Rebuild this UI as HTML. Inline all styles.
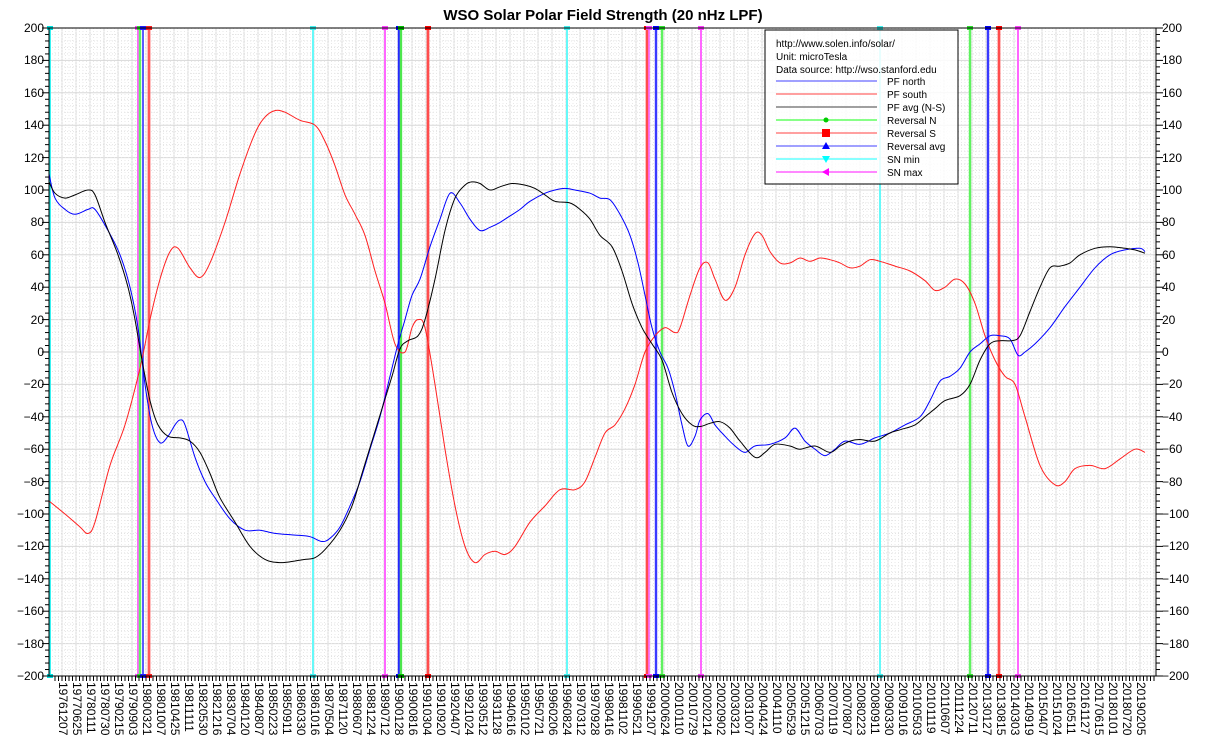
<!DOCTYPE html>
<html><head><meta charset="utf-8"><style>
body{margin:0;background:#fff;width:1206px;height:754px;overflow:hidden;font-family:"Liberation Sans",sans-serif;position:relative}
#xl{position:absolute;left:56px;top:682px;display:flex;font-size:12px;line-height:14px}
#xl span{writing-mode:vertical-rl;width:14px;display:block}
</style></head><body>
<svg id="s" width="1206" height="754" style="position:absolute;left:0;top:0" font-family="Liberation Sans, sans-serif">
<text x="603" y="20" text-anchor="middle" font-size="15" font-weight="bold">WSO Solar Polar Field Strength (20 nHz LPF)</text>
<g id="grid"></g><g id="vl"></g><g id="cur"></g><g id="ax"></g>
<g id="yl" font-size="12">
<text x="44" y="32" text-anchor="end">200</text><text x="44" y="64" text-anchor="end">180</text><text x="44" y="97" text-anchor="end">160</text><text x="44" y="129" text-anchor="end">140</text><text x="44" y="162" text-anchor="end">120</text><text x="44" y="194" text-anchor="end">100</text><text x="44" y="226" text-anchor="end">80</text><text x="44" y="259" text-anchor="end">60</text><text x="44" y="291" text-anchor="end">40</text><text x="44" y="324" text-anchor="end">20</text><text x="44" y="356" text-anchor="end">0</text><text x="44" y="388" text-anchor="end">−20</text><text x="44" y="421" text-anchor="end">−40</text><text x="44" y="453" text-anchor="end">−60</text><text x="44" y="486" text-anchor="end">−80</text><text x="44" y="518" text-anchor="end">−100</text><text x="44" y="550" text-anchor="end">−120</text><text x="44" y="583" text-anchor="end">−140</text><text x="44" y="615" text-anchor="end">−160</text><text x="44" y="648" text-anchor="end">−180</text><text x="44" y="680" text-anchor="end">−200</text>
<text x="1162" y="32">200</text><text x="1162" y="64">180</text><text x="1162" y="97">160</text><text x="1162" y="129">140</text><text x="1162" y="162">120</text><text x="1162" y="194">100</text><text x="1162" y="226">80</text><text x="1162" y="259">60</text><text x="1162" y="291">40</text><text x="1162" y="324">20</text><text x="1162" y="356">0</text><text x="1162" y="388">−20</text><text x="1162" y="421">−40</text><text x="1162" y="453">−60</text><text x="1162" y="486">−80</text><text x="1162" y="518">−100</text><text x="1162" y="550">−120</text><text x="1162" y="583">−140</text><text x="1162" y="615">−160</text><text x="1162" y="648">−180</text><text x="1162" y="680">−200</text>
</g>
<g id="leg">
<rect x="765" y="30" width="193" height="154" fill="rgba(255,255,255,0.85)" stroke="#000"/>
<g font-size="10">
<text x="776" y="47">http://www.solen.info/solar/</text>
<text x="776" y="60">Unit: microTesla</text>
<text x="776" y="73">Data source: http://wso.stanford.edu</text>
<text x="887" y="85">PF north</text><text x="887" y="98">PF south</text><text x="887" y="111">PF avg (N-S)</text>
<text x="887" y="124">Reversal N</text><text x="887" y="137">Reversal S</text><text x="887" y="150">Reversal avg</text>
<text x="887" y="163">SN min</text><text x="887" y="176">SN max</text>
</g>
<g stroke-width="1.5">
<line x1="776" x2="877" y1="81" y2="81" stroke="#8080ff"/><line x1="776" x2="877" y1="94" y2="94" stroke="#ff8080"/><line x1="776" x2="877" y1="107" y2="107" stroke="#808080"/>
<line x1="776" x2="877" y1="120" y2="120" stroke="#60ff60"/><line x1="776" x2="877" y1="133" y2="133" stroke="#ff8080"/><line x1="776" x2="877" y1="146" y2="146" stroke="#8080ff"/>
<line x1="776" x2="877" y1="159" y2="159" stroke="#60ffff"/><line x1="776" x2="877" y1="172" y2="172" stroke="#ff60ff"/>
</g>
<circle cx="826" cy="120" r="2.5" fill="#0c0"/><rect x="822" y="129" width="8" height="8" fill="#f00"/>
<path d="M822,149 L826,142 L830,149Z" fill="#00f"/><path d="M822,156 L830,156 L826,163Z" fill="#0ff"/><path d="M822,172 L829,168 L829,176Z" fill="#f0f"/>
</g>
</svg>
<div id="xl"><span>19761207</span><span>19770625</span><span>19780111</span><span>19780730</span><span>19790215</span><span>19790903</span><span>19800321</span><span>19801007</span><span>19810425</span><span>19811111</span><span>19820530</span><span>19821216</span><span>19830704</span><span>19840120</span><span>19840807</span><span>19850223</span><span>19850911</span><span>19860330</span><span>19861016</span><span>19870504</span><span>19871120</span><span>19880607</span><span>19881224</span><span>19890712</span><span>19900128</span><span>19900816</span><span>19910304</span><span>19910920</span><span>19920407</span><span>19921024</span><span>19930512</span><span>19931128</span><span>19940616</span><span>19950102</span><span>19950721</span><span>19960206</span><span>19960824</span><span>19970312</span><span>19970928</span><span>19980416</span><span>19981102</span><span>19990521</span><span>19991207</span><span>20000624</span><span>20010110</span><span>20010729</span><span>20020214</span><span>20020902</span><span>20030321</span><span>20031007</span><span>20040424</span><span>20041110</span><span>20050529</span><span>20051215</span><span>20060703</span><span>20070119</span><span>20070807</span><span>20080223</span><span>20080911</span><span>20090330</span><span>20091016</span><span>20100503</span><span>20101119</span><span>20110607</span><span>20111224</span><span>20120711</span><span>20130127</span><span>20130815</span><span>20140303</span><span>20140919</span><span>20150407</span><span>20151024</span><span>20160511</span><span>20161127</span><span>20170615</span><span>20180101</span><span>20180720</span><span>20190205</span></div>
<script>
const L=49,R=1156,T=28,B=676,NS="http://www.w3.org/2000/svg";
const Y=v=>352-v*1.62;
function el(p,t,a){const e=document.createElementNS(NS,t);for(const k in a)e.setAttribute(k,a[k]);document.getElementById(p).appendChild(e);return e;}
for(let v=-200;v<=200;v+=4){const y=Y(v);const maj=v%20==0;
 if(maj)el('grid','line',{x1:L,x2:R,y1:y,y2:y,stroke:'#d8d8d8'});
 else el('grid','line',{x1:L,x2:R,y1:y,y2:y,stroke:'#e4e4e4','stroke-dasharray':'1,2'});
 el('ax','line',{x1:L-(maj?7:4),x2:L,y1:y,y2:y,stroke:'#000'});el('ax','line',{x1:R,x2:R+(maj?7:4),y1:y,y2:y,stroke:'#000'});}
for(let x=62;x<R;x+=14)el('grid','line',{x1:x,x2:x,y1:T,y2:B,stroke:'#d8d8d8'});
for(let x=55;x<R;x+=3.5){el('grid','line',{x1:x,x2:x,y1:T,y2:B,stroke:'#e8e8e8','stroke-dasharray':'1,2'});el('ax','line',{x1:x,x2:x,y1:B,y2:B+5,stroke:'#000'});}
el('ax','rect',{x:L,y:T,width:R-L,height:B-T,fill:'none',stroke:'#000'});
const V=[[50,'#60ffff',2,'#00e0e0'],[138,'#ff80ff',2,'#ff40ff'],[140,'#80ff80',2.5,'#30e030'],[143,'#8080ff',2,'#2020ff'],[149,'#ff8080',3,'#ff2020'],[313,'#80ffff',2,'#40f0f0'],[385,'#ff80ff',2,'#ff40ff'],[399,'#4040ff',2.5,'#0000ff'],[401,'#80ff80',2.5,'#00c000'],[428,'#ff8080',3,'#ff0000'],[567,'#80ffff',2,'#40f0f0'],[647,'#ff8080',3,'#ff0000'],[649,'#ff80ff',1.5,'#ff40ff'],[656,'#6060ff',2.5,'#0000ff'],[662,'#80ff80',2.5,'#30e030'],[701,'#ff80ff',2,'#ff40ff'],[880,'#80ffff',2,'#40f0f0'],[970,'#80ff80',2.5,'#30e030'],[988,'#6060ff',2.5,'#0000ff'],[999,'#ff8080',3,'#ff0000'],[1018,'#ff80ff',2,'#ff40ff']];
V.forEach(([x,c,w,c2])=>{el('vl','line',{x1:x,x2:x,y1:T,y2:B,stroke:c,'stroke-width':w});
 el('vl','line',{x1:x,x2:x,y1:T,y2:B,stroke:c2,'stroke-width':0.8});
 el('vl','rect',{x:x-3,y:T-2,width:6,height:4,fill:c2});el('vl','rect',{x:x-3,y:B-2,width:6,height:4,fill:c2});});
function path(pts,c){let P=pts.map(p=>[p[0],Y(p[1])]);let d='M'+P[0][0]+','+P[0][1];
 for(let i=0;i<P.length-1;i++){const p0=P[Math.max(0,i-1)],p1=P[i],p2=P[i+1],p3=P[Math.min(P.length-1,i+2)];
 const c1=[p1[0]+(p2[0]-p0[0])/6,p1[1]+(p2[1]-p0[1])/6],c2=[p2[0]-(p3[0]-p1[0])/6,p2[1]-(p3[1]-p1[1])/6];
 d+='C'+c1[0].toFixed(1)+','+c1[1].toFixed(1)+' '+c2[0].toFixed(1)+','+c2[1].toFixed(1)+' '+p2[0]+','+p2[1].toFixed(1);}
 el('cur','path',{d:d,fill:'none',stroke:c,'stroke-width':1});}
path([[49,-92],[65,-100],[80,-108],[88,-112],[95,-105],[110,-70],[125,-45],[140,-10],[150,20],[160,45],[170,62],[178,64],[190,52],[200,46],[210,55],[225,80],[240,110],[255,135],[265,145],[275,149],[285,148],[300,143],[315,140],[325,130],[335,115],[345,97],[355,85],[365,72],[375,50],[385,30],[395,5],[405,0],[412,15],[418,20],[425,15],[435,-20],[445,-60],[455,-95],[465,-120],[475,-130],[485,-125],[495,-123],[505,-125],[515,-120],[530,-105],[545,-95],[560,-85],[575,-85],[585,-80],[595,-65],[605,-50],[615,-45],[625,-35],[635,-20],[645,0],[655,10],[665,15],[675,12],[680,15],[690,35],[700,52],[708,55],[715,45],[725,32],[735,40],[745,60],[755,73],[762,72],[770,62],[780,55],[790,55],[800,58],[810,56],[820,58],[830,57],[840,55],[850,52],[860,53],[870,57],[880,56],[895,53],[910,50],[925,44],[935,38],[945,40],[955,45],[965,42],[975,30],[985,10],[995,-5],[1005,-15],[1015,-20],[1025,-40],[1040,-70],[1055,-82],[1065,-80],[1075,-72],[1090,-70],[1105,-72],[1120,-66],[1135,-60],[1145,-62]],'#ff2020');
path([[49,110],[55,95],[65,88],[75,85],[88,88],[95,88],[108,75],[120,60],[130,40],[138,15],[145,-20],[152,-45],[160,-56],[168,-52],[175,-45],[180,-42],[185,-45],[195,-65],[205,-80],[215,-90],[230,-103],[245,-110],[260,-110],[275,-112],[295,-113],[310,-114],[322,-117],[330,-115],[340,-108],[350,-95],[360,-80],[370,-60],[380,-40],[390,-15],[398,5],[405,20],[412,35],[420,45],[430,65],[440,82],[450,98],[460,92],[470,82],[480,75],[490,77],[500,80],[510,84],[520,88],[530,93],[545,98],[555,100],[565,101],[575,100],[590,98],[600,95],[610,94],[620,85],[630,72],[638,55],[645,35],[652,15],[660,0],[668,-10],[675,-25],[682,-45],[688,-58],[695,-52],[700,-42],[708,-38],[715,-45],[725,-52],[735,-58],[745,-62],[755,-58],[770,-57],[785,-53],[795,-47],[805,-55],[815,-60],[825,-64],[835,-60],[845,-55],[860,-57],[875,-53],[890,-50],[905,-45],[920,-40],[930,-30],[940,-18],[950,-15],[960,-10],[970,0],[980,5],[990,10],[1000,10],[1010,8],[1018,-2],[1025,0],[1035,5],[1050,15],[1065,28],[1080,40],[1095,52],[1110,60],[1125,63],[1140,64],[1145,62]],'#0000ff');
path([[49,105],[55,98],[65,95],[75,97],[88,100],[95,97],[105,80],[118,60],[128,40],[135,20],[142,-5],[150,-30],[158,-45],[168,-52],[180,-53],[190,-55],[200,-62],[210,-75],[220,-90],[235,-105],[250,-120],[265,-128],[280,-130],[295,-129],[305,-128],[315,-127],[325,-122],[340,-110],[352,-95],[362,-75],[372,-55],[382,-35],[392,-15],[400,2],[408,7],[418,10],[425,20],[435,45],[445,75],[455,95],[465,103],[472,105],[480,104],[490,100],[500,102],[512,104],[525,103],[535,101],[545,97],[555,93],[570,92],[580,88],[590,82],[600,72],[612,65],[622,50],[632,30],[642,15],[652,5],[662,-5],[672,-25],[682,-38],[692,-45],[700,-46],[710,-44],[720,-43],[730,-47],[740,-55],[755,-65],[765,-62],[775,-57],[790,-58],[800,-60],[815,-58],[830,-62],[840,-58],[850,-55],[860,-54],[875,-55],[890,-50],[900,-48],[915,-45],[925,-40],[935,-35],[945,-30],[960,-27],[970,-20],[980,-5],[990,5],[1000,7],[1012,7],[1020,10],[1030,25],[1040,40],[1050,52],[1060,53],[1070,55],[1080,60],[1095,64],[1110,65],[1125,64],[1135,63],[1145,61]],'#000000');
const s=document.getElementById('s');s.appendChild(document.getElementById('leg'));
</script>
</body></html>
